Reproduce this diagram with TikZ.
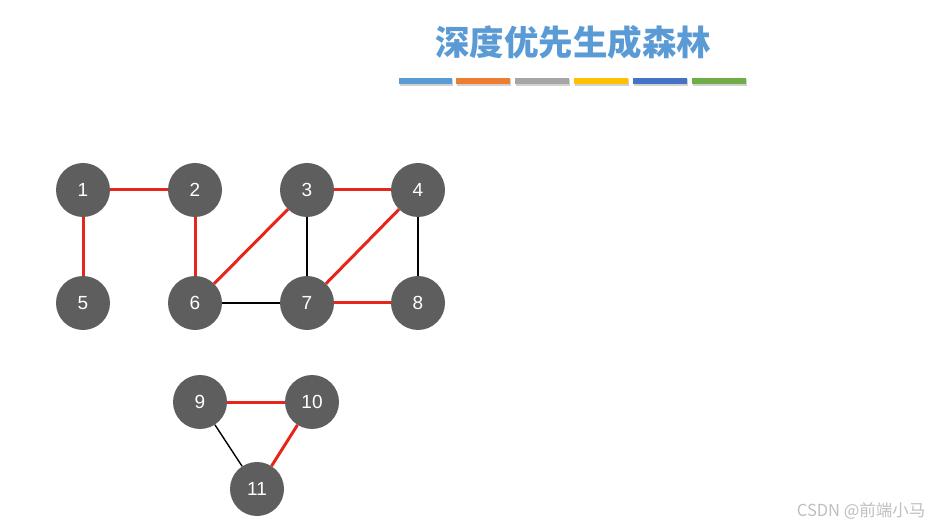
\documentclass[tikz,border=0pt]{standalone}
\usepackage{fontspec}
\setmainfont{Liberation Sans}
\newfontfamily\cjk{Noto Sans CJK SC}
\definecolor{nodegray}{HTML}{5E5E5E}
\definecolor{redge}{HTML}{E8251B}
\definecolor{titleblue}{HTML}{5B9BD5}
\definecolor{cA}{HTML}{5B9BD5}
\definecolor{cB}{HTML}{ED7D31}
\definecolor{cC}{HTML}{A5A5A5}
\definecolor{cD}{HTML}{FFC000}
\definecolor{cE}{HTML}{4472C4}
\definecolor{cF}{HTML}{70AD47}
\begin{document}
\begin{tikzpicture}[x=1pt,y=-1pt,
  vtx/.style={circle,fill=nodegray,minimum size=54pt,inner sep=0pt,text=white,font=\fontsize{19}{19}\selectfont},
  redline/.style={draw=redge,line width=3pt},
  blackline/.style={draw=black,line width=1.4pt}]
\useasboundingbox (0,0) rectangle (934,526);
\fill[white] (0,0) rectangle (934,526);
\node[text=titleblue,font=\cjk\bfseries\fontsize{34.5}{34.5}\selectfont] (title) at (573,42) {深度优先生成森林};
\foreach \a/\b/\c in {399/452/cA,456/510/cB,515/569/cC,574/628/cD,633/687/cE,692/746/cF}{
  \fill[black!18] (\a+1,79.5) rectangle (\b+1,86);
  \fill[\c] (\a,78) rectangle (\b,84.5);
}
\node[vtx] (n1) at (83,190) {1};
\node[vtx] (n2) at (195,190) {2};
\node[vtx] (n3) at (307,190) {3};
\node[vtx] (n4) at (418,190) {4};
\node[vtx] (n5) at (83,303) {5};
\node[vtx] (n6) at (195,303) {6};
\node[vtx] (n7) at (307,303) {7};
\node[vtx] (n8) at (418,303) {8};
\node[vtx] (n9) at (200,402) {9};
\node[vtx] (n10) at (312,402) {10};
\node[vtx] (n11) at (257,489) {11};
\path[redline] (n1) -- (n2);
\path[redline] (n1) -- (n5);
\path[redline] (n2) -- (n6);
\path[redline] (n6) -- (n3);
\path[redline] (n3) -- (n4);
\path[redline] (n4) -- (n7);
\path[redline] (n7) -- (n8);
\path[blackline] (n3) -- (n7);
\path[blackline] (n4) -- (n8);
\path[blackline] (n6) -- (n7);
\path[redline] (n9) -- (n10);
\path[redline] (n10) -- (n11);
\path[blackline] (n9) -- (n11);
\node[anchor=east,text=black!25,font=\cjk\fontsize{16.5}{16.5}\selectfont] (wm) at (929,511) {CSDN @前端小马};
\end{tikzpicture}
\end{document}
